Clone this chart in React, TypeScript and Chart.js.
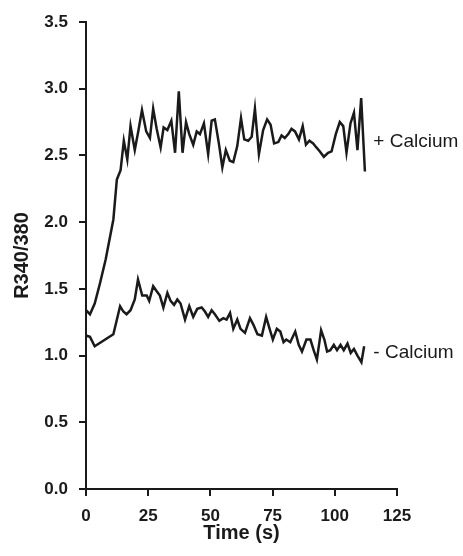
import React, { useEffect, useRef } from "react";
import { Chart, registerables } from "chart.js";

Chart.register(...registerables);

// "+ Calcium" trace
const plusTimes = [
  0, 1.6, 3.5, 5.6, 7.9, 11.0, 12.4, 13.9, 15.2, 16.6, 17.9, 19.6, 21.0, 22.5, 24.2,
  25.7, 27.0, 28.4, 30.0, 31.2, 32.7, 34.3, 35.8, 37.3, 38.8, 40.2, 41.5, 43.1, 44.5,
  45.8, 47.4, 49.1, 50.5, 51.8, 53.4, 54.8, 56.2, 57.8, 59.2, 60.8, 62.3, 63.6, 65.2,
  66.6, 67.9, 69.5, 71.2, 72.8, 74.2, 75.6, 77.3, 78.6, 79.9, 81.3, 82.6, 84.0, 85.6,
  87.1, 88.4, 89.8, 91.3, 92.6, 94.0, 95.6, 97.3, 98.7, 100.4, 102.0, 103.4, 104.7,
  106.3, 107.7, 109.1, 110.6, 112.1,
];
const plusValues = [
  1.34, 1.31, 1.39, 1.54, 1.72, 2.02, 2.32, 2.39, 2.61, 2.47, 2.72, 2.54, 2.68, 2.84, 2.68,
  2.63, 2.85, 2.7, 2.56, 2.71, 2.69, 2.76, 2.52, 2.98, 2.52, 2.75, 2.66, 2.58, 2.68,
  2.66, 2.74, 2.51, 2.76, 2.77, 2.59, 2.41, 2.54, 2.46, 2.45, 2.57, 2.78, 2.62, 2.61,
  2.64, 2.85, 2.51, 2.69, 2.77, 2.73, 2.59, 2.6, 2.65, 2.63, 2.66, 2.7, 2.68, 2.62,
  2.72, 2.58, 2.61, 2.59, 2.56, 2.53, 2.49, 2.52, 2.53, 2.66, 2.75, 2.72, 2.52,
  2.74, 2.82, 2.54, 2.93, 2.38,
];

// "- Calcium" trace
const minusTimes = [
  0, 1.6, 3.5, 11.0, 13.7, 15.0, 16.3, 17.9, 19.6, 20.9, 22.6, 24.4, 25.4, 27.0, 28.5,
  29.7, 31.1, 32.7, 34.0, 35.4, 36.7, 38.0, 39.8, 41.5, 43.1, 44.7, 46.5, 47.8, 49.1,
  50.5, 51.8, 53.6, 55.2, 56.5, 57.9, 59.2, 60.8, 62.1, 63.9, 65.9, 67.3, 68.9, 70.7,
  72.4, 73.8, 75.1, 76.7, 78.1, 79.4, 80.5, 82.1, 84.1, 85.5, 86.8, 88.6, 90.2, 91.5,
  92.8, 94.5, 95.8, 96.9, 98.2, 99.6, 100.9, 102.3, 103.6, 105.1, 106.4, 107.7, 109.1,
  110.7, 111.8,
];
const minusValues = [
  1.15, 1.14, 1.07, 1.16, 1.37, 1.33, 1.31, 1.34, 1.42, 1.57, 1.45, 1.45, 1.41, 1.52, 1.48,
  1.45, 1.36, 1.47, 1.41, 1.38, 1.42, 1.39, 1.27, 1.37, 1.29, 1.35, 1.36, 1.33, 1.29,
  1.34, 1.31, 1.26, 1.28, 1.27, 1.32, 1.2, 1.27, 1.2, 1.17, 1.28, 1.23, 1.16, 1.15,
  1.29, 1.2, 1.12, 1.2, 1.18, 1.1, 1.12, 1.1, 1.18, 1.08, 1.03, 1.12, 1.12, 1.04,
  0.97, 1.19, 1.12, 1.03, 1.04, 1.08, 1.04, 1.08, 1.04, 1.09, 1.02, 1.05, 1.0,
  0.95, 1.07,
];

const xTicks = [0, 25, 50, 75, 100, 125];
const yTicks = [0, 0.5, 1.0, 1.5, 2.0, 2.5, 3.0, 3.5];
const seriesLabels = ["+ Calcium", "- Calcium"];
const labelAnchorX = 115.5;
const labelAnchorY = [2.6, 1.02];
const xTitle = "Time (s)";
const yTitle = "R340/380";

const FONT = "'Liberation Sans', Arial, Helvetica, sans-serif";
const INK = "#1a1a1a";

export default function App() {
  const ref = useRef<HTMLCanvasElement>(null);

  useEffect(() => {
    document.body.style.margin = "0";
    const canvas = ref.current;
    if (!canvas) return;

    const labelPlugin = {
      id: "seriesLabels",
      afterDatasetsDraw(chart: any) {
        const { ctx, scales } = chart;
        ctx.save();
        ctx.font = `19px ${FONT}`;
        ctx.fillStyle = INK;
        ctx.textAlign = "left";
        ctx.textBaseline = "middle";
        seriesLabels.forEach((t, i) => {
          ctx.fillText(
            t,
            scales.x.getPixelForValue(labelAnchorX),
            scales.y.getPixelForValue(labelAnchorY[i])
          );
        });
        ctx.restore();
      },
    };

    const chart = new Chart(canvas, {
      type: "line",
      data: {
        datasets: [
          {
            label: seriesLabels[0],
            data: plusTimes.map((t, i) => ({ x: t, y: plusValues[i] })),
            borderColor: INK,
            borderWidth: 2.5,
            pointRadius: 0,
            tension: 0,
            fill: false,
          },
          {
            label: seriesLabels[1],
            data: minusTimes.map((t, i) => ({ x: t, y: minusValues[i] })),
            borderColor: INK,
            borderWidth: 2.5,
            pointRadius: 0,
            tension: 0,
            fill: false,
          },
        ],
      },
      options: {
        responsive: false,
        animation: false,
        layout: { padding: { left: 0, right: 66, top: 22, bottom: 0 } },
        plugins: {
          legend: { display: false },
          tooltip: { enabled: false },
        },
        scales: {
          x: {
            type: "linear",
            min: 0,
            max: 125,
            afterBuildTicks: (s: any) => {
              s.ticks = xTicks.map((v) => ({ value: v }));
            },
            afterFit: (s: any) => {
              s.height = 67;
            },
            ticks: {
              color: INK,
              font: { family: FONT, size: 17, weight: "bold" },
              padding: 10,
              maxRotation: 0,
            },
            grid: {
              drawOnChartArea: false,
              drawTicks: true,
              tickLength: 7,
              lineWidth: 2,
              color: INK,
            },
            border: { display: true, color: INK, width: 2 },
            title: {
              display: true,
              text: xTitle,
              color: INK,
              font: { family: FONT, size: 20, weight: "bold" },
              padding: { top: 0, bottom: 11 },
            },
          },
          y: {
            type: "linear",
            min: 0,
            max: 3.5,
            afterBuildTicks: (s: any) => {
              s.ticks = yTicks.map((v) => ({ value: v }));
            },
            afterFit: (s: any) => {
              s.width = 86;
            },
            ticks: {
              color: INK,
              font: { family: FONT, size: 17, weight: "bold" },
              padding: 11,
              callback: (v: any) => Number(v).toFixed(1),
            },
            grid: {
              drawOnChartArea: false,
              drawTicks: true,
              tickLength: 7,
              lineWidth: 2,
              color: INK,
            },
            border: { display: true, color: INK, width: 2 },
            title: {
              display: true,
              text: yTitle,
              color: INK,
              font: { family: FONT, size: 20, weight: "bold" },
              padding: { top: 10, bottom: 0 },
            },
          },
        },
      },
      plugins: [labelPlugin],
    });

    return () => chart.destroy();
  }, []);

  return <canvas ref={ref} width={463} height={556} style={{ display: "block" }} />;
}
